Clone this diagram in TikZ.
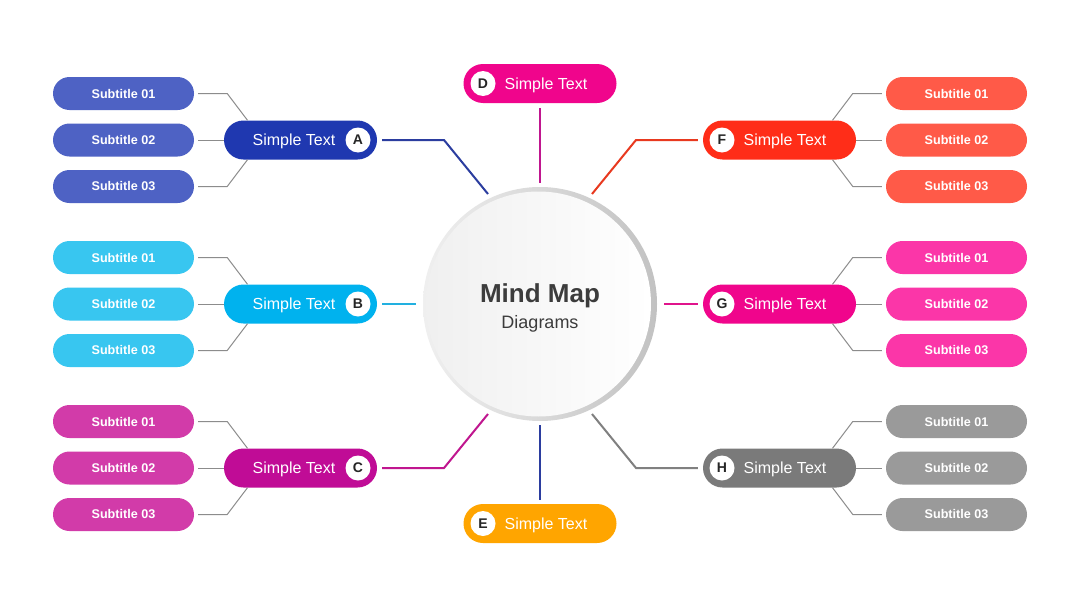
\documentclass[tikz,border=0pt]{standalone}
\usepackage{fontspec}
\setmainfont{Liberation Sans}
\usetikzlibrary{calc}
\definecolor{pA}{HTML}{1F38B0}\definecolor{sA}{HTML}{4E62C4}\definecolor{lA}{HTML}{2B3D9F}
\definecolor{pB}{HTML}{00B2EE}\definecolor{sB}{HTML}{38C6F0}\definecolor{lB}{HTML}{22B0E0}
\definecolor{pC}{HTML}{C00C96}\definecolor{sC}{HTML}{D23BA9}\definecolor{lC}{HTML}{C0168F}
\definecolor{pD}{HTML}{F0058C}\definecolor{lD}{HTML}{C0168F}
\definecolor{pE}{HTML}{FFA500}\definecolor{lE}{HTML}{2B3D9F}
\definecolor{pF}{HTML}{FF2D18}\definecolor{sF}{HTML}{FF5A48}\definecolor{lF}{HTML}{E8391F}
\definecolor{pG}{HTML}{F0058C}\definecolor{sG}{HTML}{FB36A8}\definecolor{lG}{HTML}{E0148C}
\definecolor{pH}{HTML}{7A7A7A}\definecolor{sH}{HTML}{9A9A9A}\definecolor{lH}{HTML}{808080}
\definecolor{subline}{HTML}{8C8C8C}
\definecolor{darktext}{HTML}{3C3C3C}
\tikzset{
  mainpill/.style={rectangle, rounded corners=19.5pt, minimum width=153pt, minimum height=39pt, inner sep=0pt},
  subpill/.style={rectangle, rounded corners=16.5pt, minimum width=141pt, minimum height=33pt, inner sep=0pt,
     text=white, font=\fontsize{12.6}{14}\selectfont\bfseries},
  maintext/.style={text=white, inner sep=0pt, anchor=base, font=\fontsize{16}{18}\selectfont},
  letter/.style={circle, fill=white, minimum size=25pt, inner sep=0pt, text=black!85, font=\fontsize{14}{16}\selectfont\bfseries},
  mainconn/.style={line width=2pt},
  subconn/.style={line width=1pt, subline},
}
\begin{document}
\begin{tikzpicture}[x=1pt,y=-1pt]
\useasboundingbox (0,0) rectangle (1080,608);
\fill[white] (0,0) rectangle (1080,608);

% central circle
\node[circle, minimum size=234pt, inner sep=0pt] (M) at (540,304) {};
\shade[left color=black!6, right color=black!24] (M.center) circle (117);
\shade[left color=black!6, right color=white] (538.5,304) circle (112.5);
\node[text=darktext, inner sep=0pt, anchor=base, font=\fontsize{26}{30}\selectfont\bfseries] (Mt) at (540,302.5) {Mind Map};
\node[text=darktext, inner sep=0pt, anchor=base, font=\fontsize{18}{22}\selectfont] (Md) at (540,328.5) {Diagrams};

% ---------- left main pills ----------
\foreach \n/\y in {A/140, B/304, C/468}{
  \node[mainpill, fill=p\n] (\n) at (300.5,\y) {};
  \node[maintext] (\n t) at (294,\y+5.8) {Simple Text};
  \node[letter] (\n l) at (358,\y) {\n};
  \node[subpill, fill=s\n] (\n 1) at (123.5,\y-46.5) {Subtitle 01};
  \node[subpill, fill=s\n] (\n 2) at (123.5,\y) {Subtitle 02};
  \node[subpill, fill=s\n] (\n 3) at (123.5,\y+46.5) {Subtitle 03};
  \draw[subconn] ([xshift=4pt]\n 1.east) -- ++(29,0) -- ([xshift=-53pt]\n.north);
  \draw[subconn] ([xshift=4pt]\n 2.east) -- (\n.west);
  \draw[subconn] ([xshift=4pt]\n 3.east) -- ++(29,0) -- ([xshift=-53pt]\n.south);
}
% ---------- right main pills ----------
\foreach \n/\y in {F/140, G/304, H/468}{
  \node[mainpill, fill=p\n] (\n) at (779.5,\y) {};
  \node[maintext] (\n t) at (785,\y+5.8) {Simple Text};
  \node[letter] (\n l) at (722,\y) {\n};
  \node[subpill, fill=s\n] (\n 1) at (956.5,\y-46.5) {Subtitle 01};
  \node[subpill, fill=s\n] (\n 2) at (956.5,\y) {Subtitle 02};
  \node[subpill, fill=s\n] (\n 3) at (956.5,\y+46.5) {Subtitle 03};
  \draw[subconn] ([xshift=-4pt]\n 1.west) -- ++(-29,0) -- ([xshift=53pt]\n.north);
  \draw[subconn] ([xshift=-4pt]\n 2.west) -- (\n.east);
  \draw[subconn] ([xshift=-4pt]\n 3.west) -- ++(-29,0) -- ([xshift=53pt]\n.south);
}
% ---------- top / bottom pills ----------
\node[mainpill, fill=pD] (D) at (540,83.5) {};
\node[maintext] (Dt) at (546,89.3) {Simple Text};
\node[letter] (Dl) at (483,83.5) {D};
\node[mainpill, fill=pE] (E) at (540,523.5) {};
\node[maintext] (Et) at (546,529.3) {Simple Text};
\node[letter] (El) at (483,523.5) {E};

% ---------- main connectors ----------
\coordinate (A1) at (444,140); \coordinate (A2) at (488,194);
\coordinate (B1) at (416,304);
\coordinate (C1) at (444,468); \coordinate (C2) at (488,414);
\coordinate (D1) at (540,183);
\coordinate (E1) at (540,425);
\coordinate (F1) at (636,140); \coordinate (F2) at (592,194);
\coordinate (G1) at (664,304);
\coordinate (H1) at (636,468); \coordinate (H2) at (592,414);

\draw[mainconn, lA] ([xshift=5pt]A.east) -- (A1) -- (A2);
\draw[mainconn, lB] ([xshift=5pt]B.east) -- (B1);
\draw[mainconn, lC] ([xshift=5pt]C.east) -- (C1) -- (C2);
\draw[mainconn, lD] ([yshift=-5pt]D.south) -- (D1);
\draw[mainconn, lE] ([yshift=4pt]E.north) -- (E1);
\draw[mainconn, lF] ([xshift=-5pt]F.west) -- (F1) -- (F2);
\draw[mainconn, lG] ([xshift=-5pt]G.west) -- (G1);
\draw[mainconn, lH] ([xshift=-5pt]H.west) -- (H1) -- (H2);
\end{tikzpicture}
\end{document}
